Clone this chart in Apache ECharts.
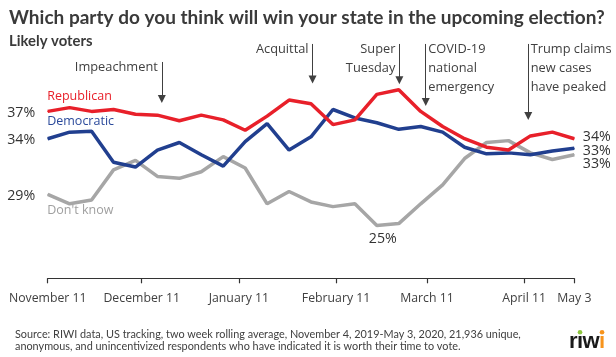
<!DOCTYPE html>
<html><head><meta charset="utf-8">
<script src="https://cdn.jsdelivr.net/npm/echarts@6/dist/echarts.min.js"></script>
<style>html,body{margin:0;padding:0;background:#fff}#c{width:616px;height:357px}</style>
</head><body><div id="c"></div>
<script>
// ---------------- data ----------------
const weekDates = ['2019-11-11','2019-11-18','2019-11-25','2019-12-02','2019-12-09','2019-12-16','2019-12-23','2019-12-30',
  '2020-01-06','2020-01-13','2020-01-20','2020-01-27','2020-02-03','2020-02-10','2020-02-17','2020-02-24',
  '2020-03-02','2020-03-09','2020-03-16','2020-03-23','2020-03-30','2020-04-06','2020-04-13','2020-04-20','2020-04-27'];
const republican = [36.9, 37.3, 36.9, 37.1, 36.6, 36.5, 35.9, 36.5, 36.0, 34.9, 36.4, 38.1, 37.7, 35.5, 36.0, 38.7, 39.2, 36.9, 35.3, 34.0, 33.1, 32.8, 34.3, 34.7, 34.0];
const democratic = [34.0, 34.7, 34.8, 31.5, 31.0, 32.8, 33.6, 32.3, 31.1, 33.7, 35.6, 32.8, 34.2, 37.1, 36.2, 35.7, 35.0, 35.3, 34.7, 33.1, 32.4, 32.5, 32.3, 32.7, 33.0];
const dontKnow   = [28.1, 27.1, 27.5, 30.7, 31.7, 30.0, 29.8, 30.5, 32.1, 30.9, 27.1, 28.4, 27.3, 26.8, 27.1, 24.8, 25.0, 27.1, 29.1, 31.9, 33.6, 33.8, 32.5, 31.8, 32.3];
const seriesNames = ['Republican', 'Democratic', "Don't know"];
const startLabels = ['37%', '34%', '29%'];
const endLabels = ['34%', '33%', '33%'];
const minLabel = '25%';
const tickDates = ['2019-11-11','2019-12-11','2020-01-11','2020-02-11','2020-03-11','2020-04-11','2020-04-27'];
const tickLabels = ['November 11', 'December 11', 'January 11', 'February 11', 'March 11', 'April 11', 'May 3'];
const eventTexts = ['Impeachment', 'Acquittal', 'Super\nTuesday', 'COVID-19\nnational\nemergency', 'Trump claims\nnew cases\nhave peaked'];
const eventDays = [36.4, 84.5, 112.2, 120.6, 153.3]; // days after Nov 11
const titleText = 'Which party do you think will win your state in the upcoming election?';
const subtitleText = 'Likely voters';
const source1 = 'Source: RIWI data, US tracking, two week rolling average, November 4, 2019-May 3, 2020, 21,936 unique,';
const source2 = 'anonymous, and unincentivized respondents who have indicated it is worth their time to vote.';

// ---------------- helpers ----------------
const DAY = 86400000;
const t0 = Date.parse(weekDates[0]);
const dayOf = d => Math.round((Date.parse(d) - t0) / DAY);
const tickDays = tickDates.map(dayOf);
const ctx = document.createElement('canvas').getContext('2d');
function fit(text, weight, family, w) { ctx.font = weight + ' 100px ' + family; return +(100 * w / ctx.measureText(text).width).toFixed(2); }
const FT = 'Lato', FB = '"Open Sans"';
const titleSize = fit(titleText, 'bold', FT, 596);
const subSize = fit(subtitleText, 'bold', FT, 83.5);
const srcSize = fit(source1, 'normal', FT, 506);
const annSize = fit('Impeachment', 'normal', FB, 83);
const axisSize = fit('November 11', 'normal', FB, 77.7);
const nameSize = fit('Republican', 'normal', FB, 64.6);
const pctSize = fit('37%', 'normal', FB, 28);

const colors = ['#e8202a', '#213f8f', '#a6a6a6'];
const nameColors = ['#e8202a', '#2b4a9b', '#a0a0a0'];
const allVals = [republican, democratic, dontKnow];
const nameOffsets = [-14, -17, 17];
const endOffsets = [-2, 2.5, 9];

function buildData(vals, si) {
  const minIdx = si === 2 ? vals.indexOf(Math.min(...vals)) : -1;
  return vals.map((v, i) => {
    const item = { value: [dayOf(weekDates[i]), v] };
    const base = { show: true, color: '#333', fontFamily: FB, fontSize: pctSize };
    if (i === 0) item.label = Object.assign({}, base, { position: 'left', distance: 12, offset: [0, 1.5], formatter: startLabels[si] });
    else if (i === vals.length - 1) item.label = Object.assign({}, base, { position: 'right', distance: 8, offset: [0, endOffsets[si]], formatter: endLabels[si] });
    else if (i === minIdx) item.label = Object.assign({}, base, { position: 'bottom', distance: 6, offset: [6, 0], formatter: minLabel });
    return item;
  });
}

const series = allVals.map((vals, si) => ({
  name: seriesNames[si], type: 'line', data: buildData(vals, si),
  symbol: 'circle', symbolSize: 1, showSymbol: true, showAllSymbol: true,
  itemStyle: { color: colors[si] }, lineStyle: { color: colors[si], width: 3.5 },
  z: 10 - si, silent: true, emphasis: { disabled: true }, animation: false,
  markPoint: {
    silent: true, animation: false, symbol: 'circle', symbolSize: 1, itemStyle: { color: 'rgba(0,0,0,0)' },
    data: [{ coord: [dayOf(weekDates[0]), vals[0]],
      label: { show: true, formatter: seriesNames[si], position: [0, nameOffsets[si]], align: 'left', verticalAlign: 'middle',
        color: nameColors[si], fontFamily: FB, fontSize: nameSize } }]
  }
}));

// annotation arrows (layout in value units)
const annTop = [42.14, 44.05, 44.05, 44.05, 44.05];
const annTip = [38.21, 40.28, 40.2, 37.9, 36.41];
const annSide = ['right', 'right', 'right', 'left', 'left'];
series.push({
  type: 'line', data: [], silent: true, animation: false,
  markLine: {
    silent: true, animation: false, symbol: ['none', 'triangle'], symbolSize: [8, 8],
    lineStyle: { color: '#404040', width: 1, type: 'solid' }, itemStyle: { color: '#404040' },
    label: { show: false }, emphasis: { disabled: true },
    data: eventDays.map((d, i) => [{ coord: [d, annTop[i]] }, { coord: [d, annTip[i]] }])
  },
  markPoint: {
    silent: true, animation: false, symbol: 'circle', symbolSize: 1, itemStyle: { color: 'rgba(0,0,0,0)' },
    data: eventDays.map((d, i) => ({ coord: [d, annTop[i]],
      label: { show: true, formatter: eventTexts[i], position: [annSide[i] === 'right' ? -3.5 : 3, -4],
        align: annSide[i], verticalAlign: 'top', lineHeight: 19, color: '#404040', fontFamily: FB, fontSize: annSize } }))
  }
});

// logo
ctx.font = 'bold 22px "Liberation Sans"';
const wr = ctx.measureText('r').width, wi = ctx.measureText('\u0131').width, ww = ctx.measureText('w').width;
const lx = 569, ly = 341.7, kern = -0.6;
const x1 = lx, x2 = x1 + wr + kern, x3 = x2 + wi + kern, x4 = x3 + ww + kern;
const logoFont = 'bold 22px "Liberation Sans"';
const logo = [
  { type: 'text', x: x1, y: ly, style: { text: 'r', font: logoFont, fill: '#1a1a1a', verticalAlign: 'middle' } },
  { type: 'text', x: x2, y: ly, style: { text: '\u0131', font: logoFont, fill: '#1a1a1a', verticalAlign: 'middle' } },
  { type: 'text', x: x3, y: ly, style: { text: 'w', font: logoFont, fill: '#1a1a1a', verticalAlign: 'middle' } },
  { type: 'text', x: x4, y: ly, style: { text: '\u0131', font: logoFont, fill: '#f7941d', verticalAlign: 'middle' } },
  { type: 'circle', shape: { cx: x2 + wi / 2, cy: 332.3, r: 2.3 }, style: { fill: '#8dc63f' } },
  { type: 'circle', shape: { cx: x4 + wi / 2, cy: 332.3, r: 2.3 }, style: { fill: '#f7941d' } }
];

const chart = echarts.init(document.getElementById('c'), null, { renderer: 'canvas' });
chart.setOption({
  animation: false,
  backgroundColor: '#fff',
  title: {
    text: titleText, subtext: subtitleText, left: 9, top: 7, itemGap: 4.5, padding: 0,
    textStyle: { fontFamily: FT, fontWeight: 'bold', fontSize: titleSize, lineHeight: 22, color: '#3a3a3a' },
    subtextStyle: { fontFamily: FT, fontWeight: 'bold', fontSize: subSize, lineHeight: 16, color: '#3a3a3a' }
  },
  grid: { left: 47.7, right: 41.7, top: 35, bottom: 78.7, containLabel: false, outerBoundsMode: 'none' },
  xAxis: {
    type: 'value', min: 0, max: 168,
    axisLine: { show: true, lineStyle: { color: '#333', width: 1.2 } },
    axisTick: { show: true, length: 5, customValues: tickDays, lineStyle: { color: '#333', width: 1.2 } },
    axisLabel: { show: true, customValues: tickDays, formatter: v => tickLabels[tickDays.indexOf(v)],
      margin: 13, lineHeight: 14, color: '#404040', fontFamily: FB, fontSize: axisSize, showMinLabel: true, showMaxLabel: true },
    splitLine: { show: false }
  },
  yAxis: { type: 'value', min: 19.2, max: 45, show: false, splitLine: { show: false } },
  series: series,
  graphic: [
    { type: 'text', left: 15, top: 334.3 - 6.5, style: { text: source1, font: 'normal ' + srcSize + 'px ' + FT, fill: '#404040', lineHeight: 13 } },
    { type: 'text', left: 15, top: 346.7 - 6.5, style: { text: source2, font: 'normal ' + srcSize + 'px ' + FT, fill: '#404040', lineHeight: 13 } }
  ].concat(logo)
});
</script></body></html>
